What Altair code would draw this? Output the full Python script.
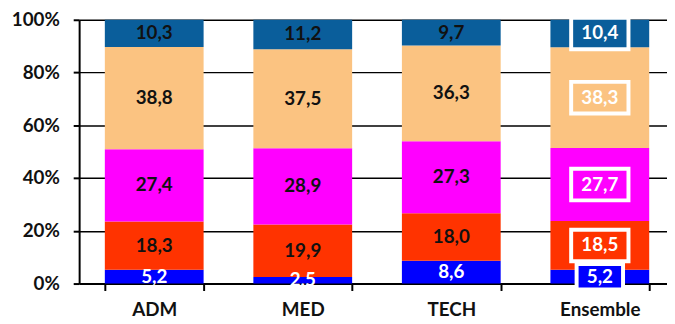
import altair as alt
import pandas as pd

categories = ["ADM", "MED", "TECH", "Ensemble"]
segments = ["s1", "s2", "s3", "s4", "s5"]  # bottom to top
seg_colors = ["#0000FF", "#FF3300", "#FF00FF", "#FBC381", "#0A5E9B"]
adm = [5.2, 18.3, 27.4, 38.8, 10.3]
med = [2.5, 19.9, 28.9, 37.5, 11.2]
tech = [8.6, 18.0, 27.3, 36.3, 9.7]
ensemble = [5.2, 18.5, 27.7, 38.3, 10.4]
y_ticks = [0, 0.2, 0.4, 0.6, 0.8, 1.0]

rows = []
for cat, vals in zip(categories, [adm, med, tech, ensemble]):
    for i, (seg, v) in enumerate(zip(segments, vals)):
        rows.append({"cat": cat, "seg": seg, "order": i, "v": v})
df = pd.DataFrame(rows)

FONT = "Lato"
color_scale = alt.Scale(domain=segments, range=seg_colors)
x_enc = alt.X("cat:N", sort=categories, title=None,
              scale=alt.Scale(range=[0, 603], paddingInner=0.335, paddingOuter=0.173))

base = alt.Chart(df).transform_stack(
    stack="v", groupby=["cat"], as_=["y0", "y1"], offset="normalize",
    sort=[alt.SortField("order")]
).transform_calculate(
    mid="(datum.y0 + datum.y1) / 2",
    label="replace(format(datum.v, '.1f'), '.', ',')",
    tc="(datum.cat == 'Ensemble' || datum.order == 0) ? 'white' : '#111111'",
    bs="pow(11 * length(replace(format(datum.v, '.1f'), '.', ',')) + 14, 2)",
)

yscale = alt.Scale(domain=[0, 1], nice=False)

bars = base.mark_bar().encode(
    x=x_enc,
    y=alt.Y("y0:Q", scale=yscale, title=None,
            axis=alt.Axis(values=y_ticks, format=".0%")),
    y2="y1:Q",
    color=alt.Color("seg:N", scale=color_scale, legend=None),
)

box_path = "M -1 -0.55 L 1 -0.55 L 1 0.55 L -1 0.55 Z"
boxes = base.transform_filter("datum.cat == 'Ensemble'").mark_point(
    shape=box_path, filled=True, opacity=1, stroke="white", strokeWidth=4
).encode(
    x=x_enc,
    y=alt.Y("mid:Q", scale=yscale, title=None),
    fill=alt.Fill("seg:N", scale=color_scale, legend=None),
    size=alt.Size("bs:Q", scale=None, legend=None),
)

texts = base.mark_text(font=FONT, fontWeight="bold", fontSize=19,
                       baseline="middle", align="center").encode(
    x=x_enc,
    y=alt.Y("mid:Q", scale=yscale, title=None),
    text="label:N",
    color=alt.Color("tc:N", scale=None, legend=None),
)

chart = alt.layer(bars, boxes, texts).properties(
    width=595, height=267,
    autosize=alt.AutoSizeParams(type="none"),
    padding={"left": 72, "top": 10, "right": 0, "bottom": 38},
).configure_view(stroke=None).configure_axisY(
    labelFont=FONT, labelFontWeight="bold", labelFontSize=19, labelColor="#111111",
    domainColor="black", domainWidth=2, tickColor="black", tickWidth=2,
    tickSize=6, labelPadding=14, grid=True, gridColor="black", gridWidth=1.5,
    gridOpacity=1,
).configure_axisX(
    labelFont=FONT, labelFontWeight="bold", labelFontSize=19, labelColor="#111111",
    domainColor="black", domainWidth=2, tickColor="black", tickWidth=2,
    tickSize=7, labelPadding=25, labelBaseline="alphabetic",
    tickBand="extent", grid=False, labelAngle=0,
)

chart.save("out.html", embed_options={"renderer": "svg", "actions": False})
